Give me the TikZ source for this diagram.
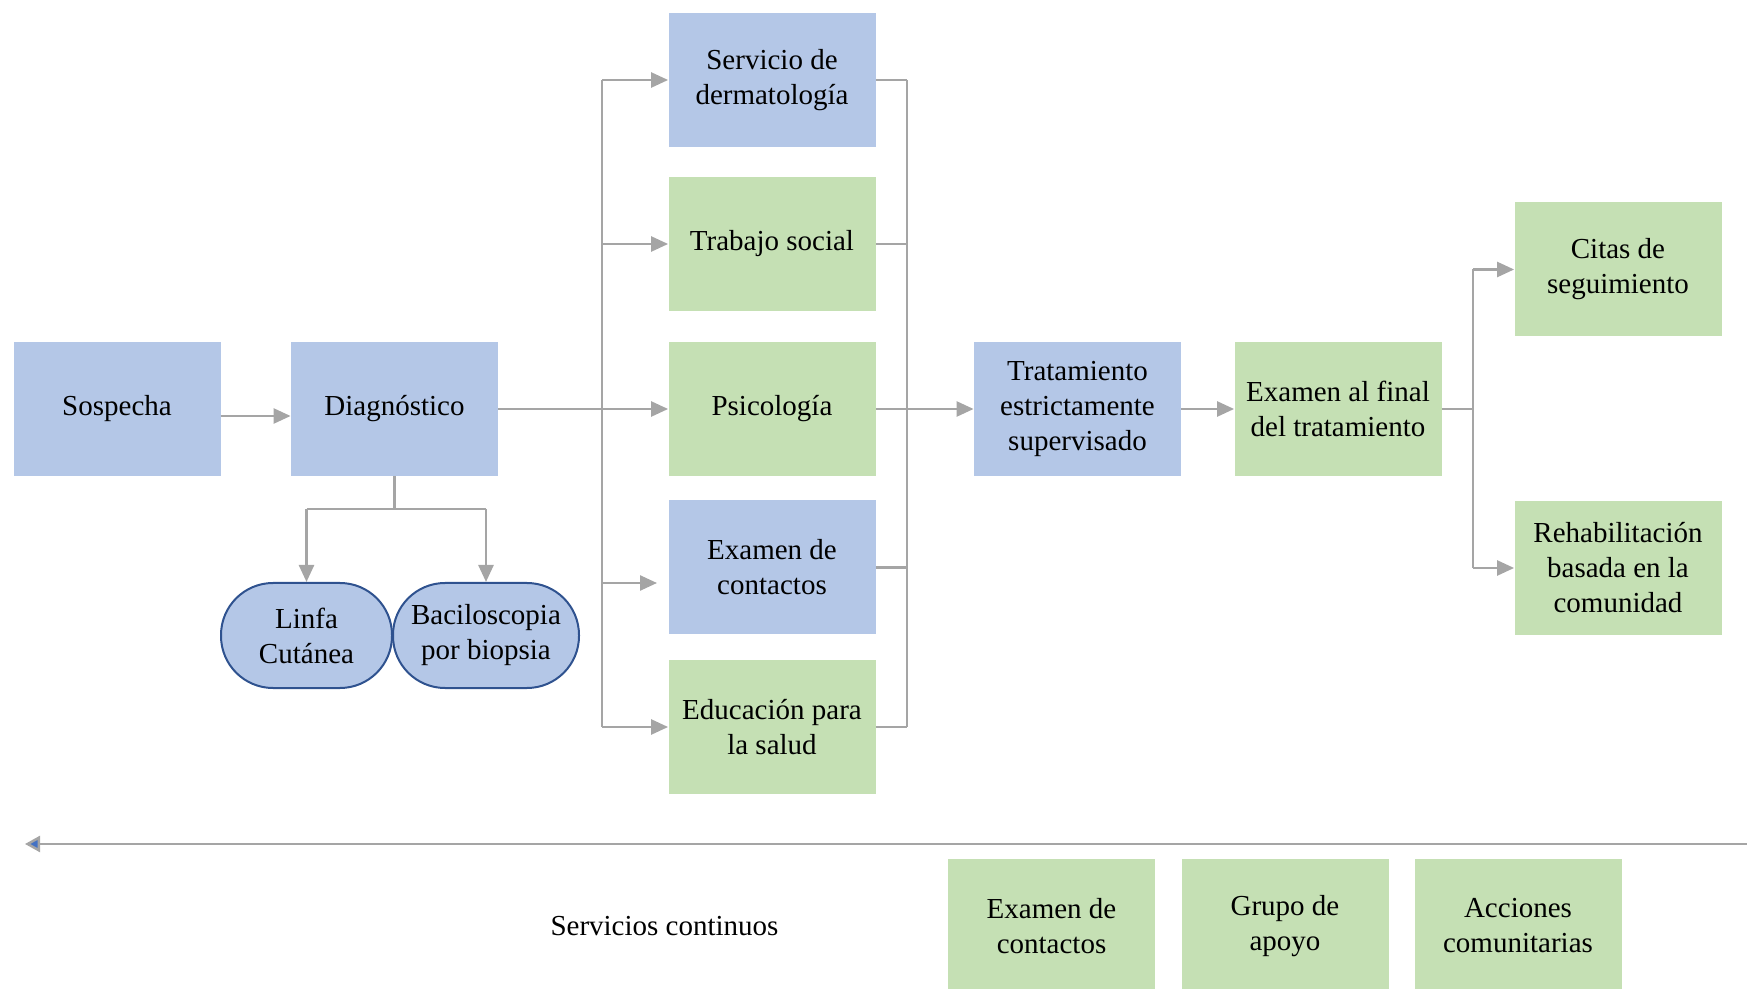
\documentclass[tikz,border=0pt]{standalone}
\usepackage{fontspec}
\setmainfont{Liberation Serif}
\usetikzlibrary{arrows.meta,calc}
\definecolor{bfill}{HTML}{B4C7E7}
\definecolor{gfill}{HTML}{C5E0B4}
\definecolor{lgray}{HTML}{A5A5A5}
\definecolor{dblue}{HTML}{2F528F}
\definecolor{tipblue}{HTML}{4472C4}
\tikzset{
  box/.style={rectangle, minimum width=103.5pt, minimum height=67pt, inner sep=0pt, align=center,
    font=\fontsize{14.5}{17.5}\selectfont},
  bbox/.style={box, fill=bfill},
  gbox/.style={box, fill=gfill},
  pill/.style={rectangle, rounded corners=26pt, draw=dblue, line width=1pt, fill=bfill,
    minimum height=52.5pt, inner sep=0pt, align=center, font=\fontsize{14.5}{17.5}\selectfont},
  conn/.style={draw=lgray, line width=1.25pt},
  arr/.style={conn, -{Triangle[length=8.5pt,width=7.5pt]}},
}
\begin{document}
\begin{tikzpicture}[x=0.5pt,y=-0.5pt]
\useasboundingbox (0,0) rectangle (1747,989);
% main boxes
\node[bbox] (sos) at (117,409) {Sospecha};
\node[bbox] (diag) at (394.5,409) {Diagnóstico};
\node[bbox] (derm) at (772,80) {Servicio de\\dermatología};
\node[gbox] (trab) at (772,244) {Trabajo social};
\node[gbox] (psic) at (772,409) {Psicología};
\node[bbox] (exam) at (772,567.5) {Examen de\\contactos};
\node[gbox] (educ) at (772,727) {Educación para\\la salud};
\node[bbox] (trat) at (1077.5,409) {Tratamiento\\estrictamente\\supervisado};
\node[gbox] (fin) at (1338,409) {Examen al final\\del tratamiento};
\node[gbox] (citas) at (1618,269.5) {Citas de\\seguimiento};
\node[gbox] (rehab) at (1618,568) {Rehabilitación\\basada en la\\comunidad};
% pills
\node[pill, minimum width=85.5pt] (linfa) at (306.5,635.5) {Linfa\\Cutánea};
\node[pill, minimum width=93pt] (bac) at (486,635.5) {Baciloscopia\\por biopsia};
% bottom
\node[gbox] (b1) at (1051.5,926) {Examen de\\contactos};
\node[gbox] (b2) at (1285,926) {Grupo de\\apoyo};
\node[gbox] (b3) at (1518,926) {Acciones\\comunitarias};
\node[font=\fontsize{14.5}{17.5}\selectfont] (serv) at (664.5,926) {Servicios continuos};

% connectors
\draw[arr] ($(sos.east)+(0,7)$) -- ($(diag.west)+(0,7)$);
\coordinate (lbt) at (602,80);
\coordinate (lbb) at (602,727);
\coordinate (lbm) at (602,409);
\draw[conn] (diag.east) -- (lbm);
\draw[conn] (lbt) -- (lbb);
\draw[arr] (lbt) -- (derm.west);
\draw[arr] (lbt |- trab.west) -- (trab.west);
\draw[arr] (lbm) -- (psic.west);
\coordinate (examtip) at (657,583);
\draw[arr] (lbt |- examtip) -- (examtip);
\draw[arr] (lbb) -- (educ.west);

\coordinate (rbt) at (907,80);
\coordinate (rbb) at (907,727);
\draw[conn] (derm.east) -- (rbt |- derm.east);
\draw[conn] (trab.east) -- (rbt |- trab.east);
\draw[conn] (exam.east) -- (rbt |- exam.east);
\draw[conn] (educ.east) -- (rbt |- educ.east);
\draw[conn] (rbt) -- (rbb);
\draw[arr] (psic.east) -- (trat.west);
\draw[arr] (trat.east) -- (fin.west);

\coordinate (fbt) at (1473,269.5);
\coordinate (fbb) at (1473,568);
\draw[conn] (fin.east) -- (fbt |- fin.east);
\draw[conn] (fbt) -- (fbb);
\draw[arr] (fbt) -- (citas.west);
\draw[arr] (fbb) -- (rehab.west);

\coordinate (dj) at (394.5,509);
\draw[conn] (diag.south) -- (dj);
\draw[conn] (linfa.north |- dj) -- (bac.north |- dj);
\draw[arr] (linfa.north |- dj) -- (linfa.north);
\draw[arr] (bac.north |- dj) -- (bac.north);

% continuous services line
\coordinate (cr) at (1747,844);
\coordinate (cl) at (25,844);
\draw[draw=lgray, line width=1.25pt, -{Triangle[length=7.5pt,width=8pt,fill=tipblue]}] (cr) -- (cl);
\end{tikzpicture}
\end{document}
